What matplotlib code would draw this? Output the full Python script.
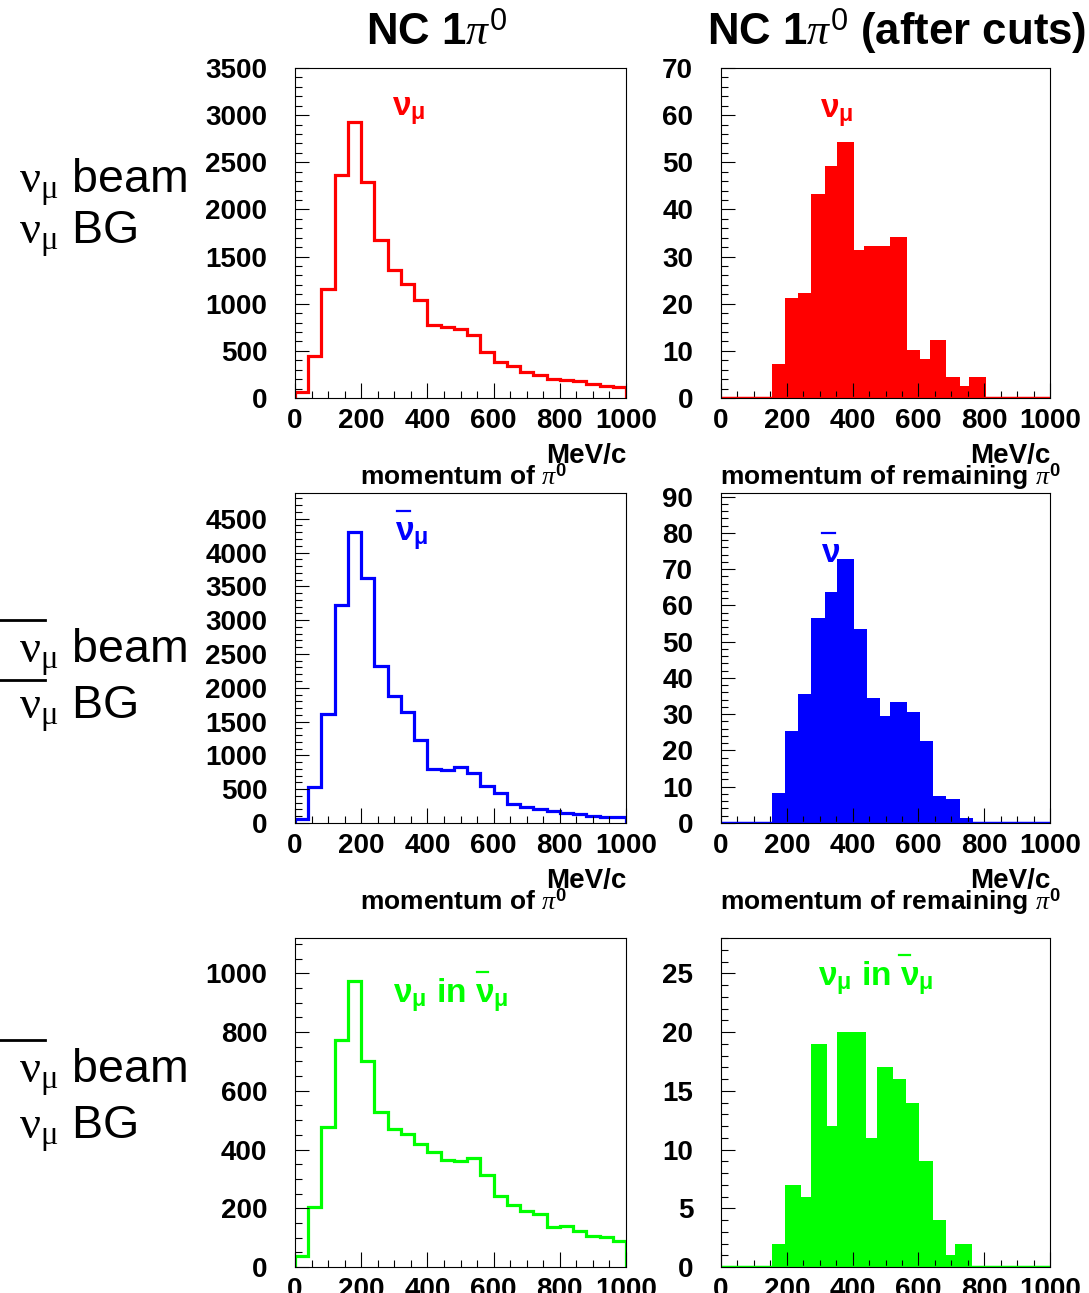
import numpy as np
import matplotlib
matplotlib.use('Agg')
import matplotlib.pyplot as plt
from matplotlib.ticker import MultipleLocator
from matplotlib.lines import Line2D

plt.rcParams['font.family'] = ['Liberation Sans', 'DejaVu Sans']
plt.rcParams['mathtext.fontset'] = 'custom'
plt.rcParams['mathtext.rm'] = 'Liberation Serif'
plt.rcParams['mathtext.it'] = 'Liberation Serif:italic'
plt.rcParams['mathtext.bf'] = 'Liberation Sans:bold'
plt.rcParams['mathtext.sf'] = 'Liberation Sans'

# ---------------- data ----------------
# all NC 1pi0 events: 25 bins of 40 MeV/c from 0 to 1000
all_edges = [0, 40, 80, 120, 160, 200, 240, 280, 320, 360, 400, 440, 480,
             520, 560, 600, 640, 680, 720, 760, 800, 840, 880, 920, 960, 1000]
numu_all = [60, 449, 1156, 2368, 2927, 2287, 1679, 1361, 1209, 1043, 778, 753,
            732, 672, 488, 378, 343, 276, 247, 201, 187, 177, 152, 131, 117]
numubar_all = [59, 527, 1611, 3217, 4296, 3630, 2315, 1882, 1635, 1232, 803, 778,
               823, 739, 552, 443, 286, 236, 212, 172, 148, 138, 108, 89, 89]
wrong_all = [39, 203, 475, 773, 974, 702, 526, 470, 453, 419, 393, 364,
             360, 371, 314, 241, 212, 189, 181, 135, 139, 124, 107, 101, 87]

# after cuts (non-empty bins only)
numu_cut_edges = [154, 194, 235, 275, 315, 354, 404, 435, 475, 513, 565, 606,
                  634, 684, 725, 753, 804]
numu_cut = [7.3, 21.3, 22.3, 43.3, 49.3, 54.2, 31.3, 32.3, 32.3, 34.2, 10.2,
            8.3, 12.4, 4.4, 2.5, 4.4]
numubar_cut_edges = [154, 194, 235, 275, 315, 354, 404, 444, 484, 513, 565,
                     606, 644, 684, 725, 765]
numubar_cut = [8.3, 25.4, 35.5, 56.6, 63.6, 72.7, 53.5, 34.6, 29.6, 33.4,
               30.5, 22.6, 7.5, 6.6, 1.5]
wrong_cut_edges = [154, 194, 244, 275, 323, 354, 398, 442, 473, 523, 563, 603,
                   643, 684, 712, 762]
wrong_cut = [2, 7, 6, 19, 12, 20, 20, 11, 17, 16, 14, 9, 4, 1, 2]

xticks = [0, 200, 400, 600, 800, 1000]
col_titles = [r'NC 1$\pi^{\mathsf{0}}$', r'NC 1$\pi^{\mathsf{0}}$ (after cuts)']
xlabels = [r'momentum of $\pi^{\mathbf{0}}$', r'momentum of remaining $\pi^{\mathbf{0}}$']
unit_label = 'MeV/c'

RED, BLUE, GREEN = '#ff0000', '#0000ff', '#00ff00'

W, H = 1089, 1293
fig = plt.figure(figsize=(W / 100, H / 100), dpi=100)


def fx(x):
    return x / W


def fy(y):
    return 1 - y / H


def make_ax(x0, y0, x1, y1):
    return fig.add_axes([fx(x0), fy(y1), fx(x1) - fx(x0), fy(y0) - fy(y1)])


cols = [(295, 626), (721, 1050)]
rows = [(68, 398), (493, 823), (938, 1267)]

panels = [
    # row, col, kind, edges, values, color, ymax, major, minor
    (0, 0, 'line', all_edges, numu_all, RED, 3500, 500, 100),
    (0, 1, 'fill', numu_cut_edges, numu_cut, RED, 70, 10, 2),
    (1, 0, 'line', all_edges, numubar_all, BLUE, 4880, 500, 100),
    (1, 1, 'fill', numubar_cut_edges, numubar_cut, BLUE, 91, 10, 2),
    (2, 0, 'line', all_edges, wrong_all, GREEN, 1120, 200, 50),
    (2, 1, 'fill', wrong_cut_edges, wrong_cut, GREEN, 28, 5, 1),
]

for r, c, kind, edges, vals, color, ymax, maj, mnr in panels:
    x0, x1 = cols[c]
    y0, y1 = rows[r]
    ax = make_ax(x0, y0, x1, y1)
    if kind == 'line':
        ax.stairs(vals, edges, baseline=0, color=color, lw=2.3)
    else:
        ax.axhline(0, color=color, lw=2.5)
        ax.stairs(vals, edges, baseline=0, fill=True, color=color, lw=0)
    ax.set_xlim(0, 1000)
    ax.set_ylim(0, ymax)
    ax.set_xticks(xticks)
    ax.xaxis.set_minor_locator(MultipleLocator(50))
    ax.yaxis.set_major_locator(MultipleLocator(maj))
    ax.yaxis.set_minor_locator(MultipleLocator(mnr))
    ax.tick_params(axis='both', which='both', direction='in', width=0.8,
                   color='black')
    ax.tick_params(axis='x', which='major', length=11, pad=7)
    ax.tick_params(axis='x', which='minor', length=5)
    ax.tick_params(axis='y', which='major', length=10, pad=20)
    ax.tick_params(axis='y', which='minor', length=5)
    for lab in ax.get_xticklabels() + ax.get_yticklabels():
        lab.set_fontsize(20)
        lab.set_fontweight('bold')
    for sp in ax.spines.values():
        sp.set_linewidth(0.8)
        sp.set_color('black')

# column titles
fig.text(fx(437), fy(45), col_titles[0], ha='center', va='baseline',
         fontsize=31.5, fontweight='bold')
fig.text(fx(897), fy(45), col_titles[1], ha='center', va='baseline',
         fontsize=31.5, fontweight='bold')

# x-axis labels (rows 1 and 2)
for dy in (0, 425):
    for c in (0, 1):
        fig.text(fx(cols[c][1]), fy(463 + dy), unit_label, ha='right',
                 va='baseline', fontsize=20, fontweight='bold')
    fig.text(fx(360), fy(485 + dy), xlabels[0], ha='left', va='baseline',
             fontsize=19, fontweight='bold')
    fig.text(fx(720), fy(485 + dy), xlabels[1], ha='left', va='baseline',
             fontsize=19, fontweight='bold')

# row labels
nu = r'$\mathrm{\nu}_{\mathrm{\mu}}$ '
for yb in (193, 663, 1083):
    fig.text(fx(19), fy(yb), nu + 'beam', ha='left', va='baseline', fontsize=33.5)
for yb in (244, 719, 1139):
    fig.text(fx(19), fy(yb), nu + 'BG', ha='left', va='baseline', fontsize=33.5)


def hline(x0, x1, y, color='black', lw=2.0):
    fig.add_artist(Line2D([fx(x0), fx(x1)], [fy(y), fy(y)], color=color, lw=lw))


hline(0, 45, 620)
hline(0, 45, 680)
hline(0, 45, 1040)

# in-panel annotations
nub = r'$\mathbf{\nu}_{\mathbf{\mu}}$'
fig.text(fx(392), fy(115), nub, color=RED, fontsize=24, fontweight='bold',
         va='baseline')
fig.text(fx(820), fy(117), nub, color=RED, fontsize=24, fontweight='bold',
         va='baseline')
fig.text(fx(395), fy(540), nub, color=BLUE, fontsize=24, fontweight='bold',
         va='baseline')
hline(397, 410, 511, BLUE, 1.6)
fig.text(fx(821), fy(562), r'$\mathbf{\nu}$', color=BLUE, fontsize=24,
         fontweight='bold', va='baseline')
hline(822, 835, 533, BLUE, 1.6)
fig.text(fx(393), fy(1002), nub + ' in ' + nub, color=GREEN, fontsize=24,
         fontweight='bold', va='baseline')
hline(477, 488, 972, GREEN, 1.6)
fig.text(fx(818), fy(985), nub + ' in ' + nub, color=GREEN, fontsize=24,
         fontweight='bold', va='baseline')
hline(899, 910, 955, GREEN, 1.6)

fig.savefig('out.png', dpi=100)
